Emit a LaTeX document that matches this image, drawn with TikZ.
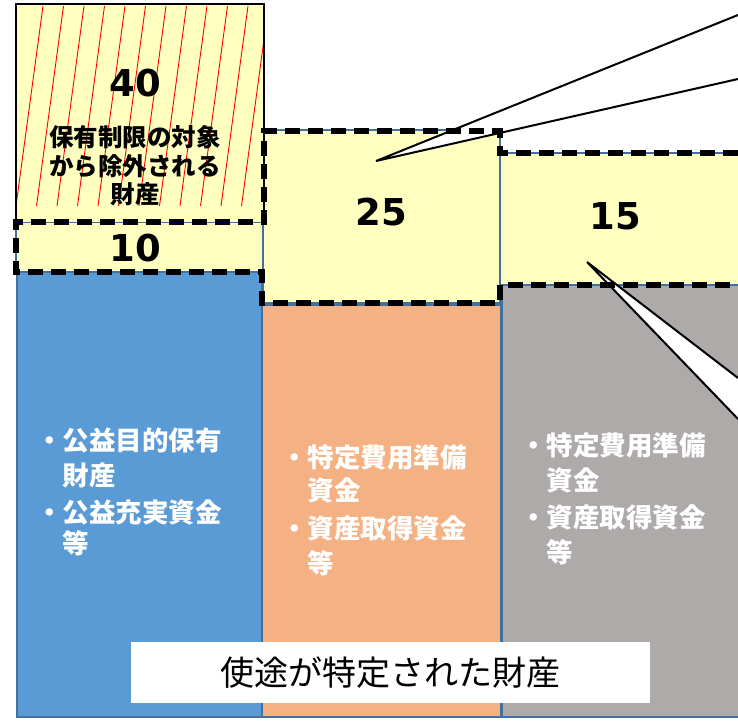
\documentclass[tikz,border=0pt]{standalone}
\usepackage{fontspec}
\setmainfont{DejaVu Sans}
\newfontfamily\jp{Noto Sans CJK JP}
\definecolor{yel}{HTML}{FFFFC0}
\definecolor{cblue}{HTML}{5B9BD5}
\definecolor{corange}{HTML}{F4B183}
\definecolor{cgray}{HTML}{AEAAAA}
\definecolor{bord}{HTML}{41719C}
\begin{document}
\begin{tikzpicture}[x=1pt,y=-1pt,
  thinb/.style={draw=bord, line width=1.5pt},
  dashline/.style={line width=5.5pt, dash pattern=on 15pt off 8pt},
  numtxt/.style={font=\fontsize{37}{40}\selectfont\bfseries, inner sep=0pt},
  jpb/.style={font=\jp\bfseries\fontsize{24.5}{28}\selectfont, inner sep=0pt},
  coltxt/.style={font=\jp\bfseries\fontsize{26.5}{30}\selectfont, text=white, anchor=west, inner sep=0pt},
  callout/.style={line width=2pt, line join=miter}]
\path[use as bounding box] (0,0) rectangle (738,721);
% coordinates for callouts
\coordinate (t1) at (376,161);
\coordinate (e1a) at (738,15);
\coordinate (e1b) at (738,79);
\coordinate (t2) at (587,262);
\coordinate (e2a) at (738,378);
\coordinate (e2b) at (738,419);
% columns
\filldraw[fill=cblue, thinb] (17,272) rectangle (262,717);
\filldraw[fill=corange, thinb] (262,305) rectangle (501,717);
\filldraw[fill=cgray, thinb] (502,285) rectangle (745,717);
% yellow boxes
\filldraw[fill=yel, thinb] (16,222) rectangle (263,272);
\filldraw[fill=yel, thinb] (263,130) rectangle (500,303);
\filldraw[fill=yel, thinb] (500,153) rectangle (745,285);
% 40 box with hatching
\fill[yel] (16,4) rectangle (264,222);
\begin{scope}
  \clip (16,4) rectangle (264,222);
  \foreach \i in {0,...,11} \draw[red, line width=0.9pt] ({16+20.5*\i},206) -- ++(27,-200);
\end{scope}
\draw[line width=2.5pt] (16,222) -- (16,4) -- (264,4) -- (264,222);
% callout fills
\fill[white] (t1) -- (e1a) -- (e1b) -- cycle;
\fill[white] (t2) -- (e2a) -- (e2b) -- cycle;
% dashed outline
\draw[dashline] (738,153) -- (500,153) -- (500,131) -- (264,131) -- (264,222) -- (16,222) -- (16,272) -- (262,272) -- (262,303) -- (500,303) -- (500,285) -- (738,285);
% callout lines
\draw[callout] (e1a) -- (t1) -- (e1b);
\draw[callout] (e2a) -- (t2) -- (e2b);
% numbers and texts
\node[numtxt] (n40) at (135,83) {40};
\node[jpb] (j1) at (135,137) {保有制限の対象};
\node[jpb] (j2) at (135,166) {から除外される};
\node[jpb] (j3) at (135,194) {財産};
\node[numtxt] (n10) at (135,248) {10};
\node[numtxt] (n25) at (381,212) {25};
\node[numtxt] (n15) at (615,216) {15};
% blue column
\node[coltxt] (b1) at (36,440) {・公益目的保有};
\node[coltxt] (b2) at (62.5,475) {財産};
\node[coltxt] (b3) at (36,512) {・公益充実資金};
\node[coltxt] (b4) at (62.5,543) {等};
% orange column
\node[coltxt] (o1) at (281,457) {・特定費用準備};
\node[coltxt] (o2) at (307.5,490) {資金};
\node[coltxt] (o3) at (281,528) {・資産取得資金};
\node[coltxt] (o4) at (307.5,563) {等};
% gray column
\node[coltxt] (g1) at (520,445) {・特定費用準備};
\node[coltxt] (g2) at (546.5,480) {資金};
\node[coltxt] (g3) at (520,517) {・資産取得資金};
\node[coltxt] (g4) at (546.5,552) {等};
% label
\node[fill=white, minimum width=519pt, minimum height=61pt, inner sep=0pt, font=\jp\fontsize{34}{36}\selectfont] (lbl) at (390.5,672.5) {使途が特定された財産};
\end{tikzpicture}
\end{document}
